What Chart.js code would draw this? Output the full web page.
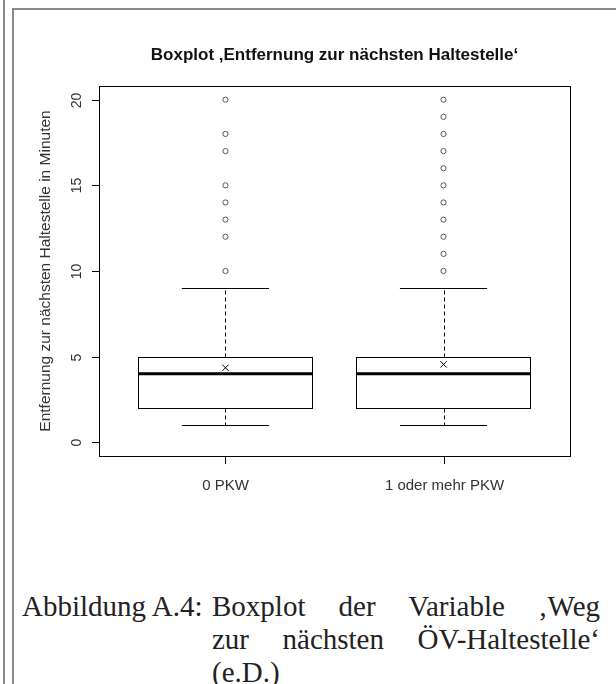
<!DOCTYPE html>
<html>
<head>
<meta charset="utf-8">
<script src="https://cdn.jsdelivr.net/npm/chart.js@4"></script>
<style>
  html, body { margin: 0; padding: 0; background: #fff; }
  body { width: 616px; height: 684px; position: relative; overflow: hidden; }
  #leftLine { position: absolute; left: 3px; top: 0; width: 2px; height: 684px; background: #8a8a8a; }
  #frame { position: absolute; left: 12px; top: 8px; width: 620px; height: 700px;
           border-left: 2px solid #8a8a8a; border-top: 2px solid #8a8a8a; }
  #chartBox { position: absolute; left: 0; top: 0; width: 616px; height: 520px; }
  #caption { position: absolute; left: 22px; top: 590px; width: 578px;
             font-family: "Liberation Serif", serif; font-size: 29px; line-height: 33px; color: #222;
             display: flex; }
  #caption .lab { white-space: nowrap; width: 190px; flex: none; }
  #caption .body { flex: 1; }
  #caption .j { text-align: justify; text-align-last: justify; }
</style>
</head>
<body>
<div id="leftLine"></div>
<div id="frame"></div>
<div id="chartBox"><canvas id="boxplot-canvas" width="616" height="520"></canvas></div>
<div id="caption">
  <div class="lab">Abbildung A.4:</div>
  <div class="body">
    <div class="j">Boxplot der Variable ‚Weg</div>
    <div class="j">zur nächsten ÖV-Haltestelle‘</div>
    <div>(e.D.)</div>
  </div>
</div>
<script>
// values
const categories = ["0 PKW", "1 oder mehr PKW"];
const whiskerLow = [1, 1];
const q1 = [2, 2];
const median = [4, 4];
const q3 = [5, 5];
const whiskerHigh = [9, 9];
const means = [4.35, 4.55];
const outliers0 = [10, 12, 13, 14, 15, 17, 18, 20];
const outliers1 = [10, 11, 12, 13, 14, 15, 16, 17, 18, 19, 20];
const yTicks = [0, 5, 10, 15, 20];

const fontFamily = "'Liberation Sans', Arial, sans-serif";

// draws the boxes, whiskers and axes the way R does it
const boxplotPlugin = {
    id: "boxplot",
    beforeDatasetsDraw(chart) {
        const ctx = chart.ctx;
        const x = chart.scales.x;
        const y = chart.scales.y;
        ctx.save();
        ctx.strokeStyle = "#000";
        categories.forEach(function(cat, i) {
            const pos = i + 1;
            const bl = x.getPixelForValue(pos - 0.4);
            const br = x.getPixelForValue(pos + 0.4);
            const cl = x.getPixelForValue(pos - 0.2);
            const cr = x.getPixelForValue(pos + 0.2);
            const cx = Math.round(x.getPixelForValue(pos)) + 0.5;
            const yq1 = Math.round(y.getPixelForValue(q1[i])) + 0.5;
            const yq3 = Math.round(y.getPixelForValue(q3[i])) + 0.5;
            const ylo = Math.round(y.getPixelForValue(whiskerLow[i])) + 0.5;
            const yhi = Math.round(y.getPixelForValue(whiskerHigh[i])) + 0.5;
            const ymed = y.getPixelForValue(median[i]);

            // dashed whiskers
            ctx.lineWidth = 1;
            ctx.setLineDash([4, 3]);
            ctx.beginPath();
            ctx.moveTo(cx, yq3); ctx.lineTo(cx, yhi);
            ctx.moveTo(cx, yq1); ctx.lineTo(cx, ylo);
            ctx.stroke();
            ctx.setLineDash([]);

            // staples
            ctx.beginPath();
            ctx.moveTo(cl, yhi); ctx.lineTo(cr, yhi);
            ctx.moveTo(cl, ylo); ctx.lineTo(cr, ylo);
            ctx.stroke();

            // box
            ctx.fillStyle = "#fff";
            ctx.fillRect(bl, yq3, br - bl, yq1 - yq3);
            ctx.strokeRect(Math.round(bl) + 0.5, yq3, Math.round(br - bl), yq1 - yq3);

            // median
            ctx.lineWidth = 3;
            ctx.beginPath();
            ctx.moveTo(bl, ymed); ctx.lineTo(br, ymed);
            ctx.stroke();
        });
        ctx.restore();
    },
    afterDraw(chart) {
        const ctx = chart.ctx;
        const area = chart.chartArea;
        const x = chart.scales.x;
        const y = chart.scales.y;
        ctx.save();
        ctx.strokeStyle = "#000";
        ctx.lineWidth = 1;
        ctx.strokeRect(Math.round(area.left) + 0.5, Math.round(area.top) + 0.5,
                       Math.round(area.right - area.left), Math.round(area.bottom - area.top));

        ctx.fillStyle = "#333";
        ctx.textAlign = "center";
        ctx.textBaseline = "middle";

        // y axis ticks, labels rotated like R's las=0
        ctx.font = "14px " + fontFamily;
        yTicks.forEach(function(v) {
            const py = Math.round(y.getPixelForValue(v)) + 0.5;
            ctx.beginPath();
            ctx.moveTo(area.left - 7, py); ctx.lineTo(area.left, py);
            ctx.stroke();
            ctx.save();
            ctx.translate(area.left - 22, py);
            ctx.rotate(-Math.PI / 2);
            ctx.fillText(String(v), 0, 0);
            ctx.restore();
        });

        // x axis ticks and category names
        ctx.font = "15px " + fontFamily;
        categories.forEach(function(cat, i) {
            const px = Math.round(x.getPixelForValue(i + 1)) + 0.5;
            ctx.beginPath();
            ctx.moveTo(px, area.bottom); ctx.lineTo(px, area.bottom + 8);
            ctx.stroke();
            ctx.fillText(cat, px, area.bottom + 30);
        });

        // y axis title
        ctx.font = "15.5px " + fontFamily;
        ctx.save();
        ctx.translate(46, (area.top + area.bottom) / 2);
        ctx.rotate(-Math.PI / 2);
        ctx.fillText("Entfernung zur nächsten Haltestelle in Minuten", 0, 0);
        ctx.restore();
        ctx.restore();
    }
};

const outlierSets = [outliers0, outliers1];
const datasets = outlierSets.map(function(vals, i) {
    return {
        label: categories[i] + " Ausreißer",
        data: vals.map(function(v) { return { x: i + 1, y: v }; }),
        pointStyle: "circle",
        pointRadius: 2.6,
        borderColor: "#555",
        backgroundColor: "rgba(0,0,0,0)",
        borderWidth: 1
    };
});
datasets.push({
    label: "Mittelwert",
    data: means.map(function(v, i) { return { x: i + 1, y: v }; }),
    pointStyle: "crossRot",
    pointRadius: 4.5,
    borderColor: "#000",
    borderWidth: 1
});

const chart = new Chart(document.getElementById("boxplot-canvas"), {
    type: "scatter",
    data: { datasets: datasets },
    plugins: [boxplotPlugin],
    options: {
        responsive: false,
        animation: false,
        layout: { padding: { left: 99, right: 46, top: 45, bottom: 64 } },
        plugins: {
            legend: { display: false },
            tooltip: { enabled: false },
            title: {
                display: true,
                text: "Boxplot ‚Entfernung zur nächsten Haltestelle‘",
                color: "#111",
                font: { family: fontFamily, size: 17, weight: "bold", lineHeight: 1.2 },
                padding: { top: 0, bottom: 20.6 }
            }
        },
        scales: {
            x: { type: "linear", min: 0.42, max: 2.58, display: false },
            y: { type: "linear", min: -0.8, max: 20.8, display: false }
        }
    }
});
</script>
</body>
</html>
